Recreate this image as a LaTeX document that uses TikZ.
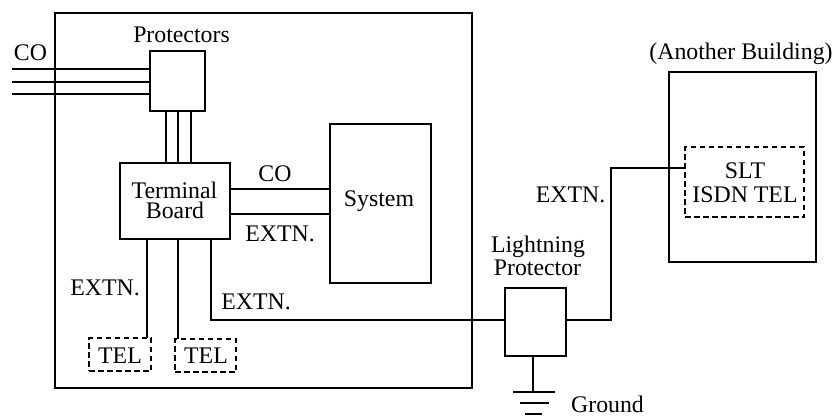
\documentclass[tikz,border=0pt]{standalone}
\usepackage{fontspec}
\setmainfont{Liberation Serif}
\begin{document}
\begin{tikzpicture}[x=1pt,y=-1pt,
  every node/.style={inner sep=0pt,outer sep=0pt},
  wire/.style={line width=2pt,line join=miter},
  boxed/.style={draw,line width=2pt,rectangle},
  dashbox/.style={draw,line width=2pt,rectangle,dash pattern=on 5.5pt off 3.5pt},
  lab/.style={font=\fontsize{23.8}{26}\selectfont,anchor=base,align=center}]
\useasboundingbox (0,0) rectangle (834,415);
% frames
\node[boxed,minimum width=417pt,minimum height=375pt] (site) at (263.5,200.5) {};
\node[boxed,minimum width=147pt,minimum height=190pt] (bldg) at (742.5,167) {};
% boxes
\node[boxed,minimum width=55.5pt,minimum height=60pt] (prot) at (177.25,80.5) {};
\node[boxed,minimum width=109.5pt,minimum height=76pt] (term) at (174.75,201) {};
\node[boxed,minimum width=101pt,minimum height=159pt] (sys) at (380.5,203.5) {};
\node[boxed,minimum width=61pt,minimum height=68pt] (light) at (535.5,322) {};
\node[dashbox,minimum width=62pt,minimum height=33pt] (tela) at (120,354.5) {};
\node[dashbox,minimum width=61pt,minimum height=33pt] (telb) at (205.5,355.5) {};
\node[dashbox,minimum width=119pt,minimum height=70pt] (slt) at (744.5,182) {};
% free ends
\coordinate (co1) at (12,69);
\coordinate (co2) at (12,81.5);
\coordinate (co3) at (12,94);
\coordinate (bend1) at (211,320);
\coordinate (bend2) at (611,320);
\coordinate (bend3) at (611,168);
\coordinate (g1l) at (513,391.5);
\coordinate (g1r) at (555,391.5);
\coordinate (g2l) at (519.5,403);
\coordinate (g2r) at (549,403);
\coordinate (g3l) at (525,413.5);
\coordinate (g3r) at (542,413.5);
\coordinate (gtop) at (533,391.5);
% connectors
\draw[wire] (co1) -- (co1 -| prot.west);
\draw[wire] (co2) -- (co2 -| prot.west);
\draw[wire] (co3) -- (co3 -| prot.west);
\draw[wire] (prot.south -| 165.5,0) -- (term.north -| 165.5,0);
\draw[wire] (prot.south -| 178,0) -- (term.north -| 178,0);
\draw[wire] (prot.south -| 191,0) -- (term.north -| 191,0);
\draw[wire] (term.east |- 0,189) -- (sys.west |- 0,189);
\draw[wire] (term.east |- 0,214) -- (sys.west |- 0,214);
\draw[wire] (term.south -| 147,0) -- (tela.north -| 147,0);
\draw[wire] (term.south -| 178,0) -- (telb.north -| 178,0);
\draw[wire] (bend1 |- term.south) -- (bend1) -- (bend1 -| light.west);
\draw[wire] (bend2 -| light.east) -- (bend2) -- (bend3) -- (bend3 -| slt.west);
\draw[wire] (light.south -| gtop) -- (gtop);
\draw[wire] (g1l) -- (g1r);
\draw[wire] (g2l) -- (g2r);
\draw[wire] (g3l) -- (g3r);
% labels
\node[lab] (lco) at (30.5,60) {CO};
\node[lab] (lprot) at (181.5,42) {Protectors};
\node[lab] (lterm) at (174.5,198) {Terminal};
\node[lab] (lboard) at (175,218) {Board};
\node[lab] (lco2) at (275,181) {CO};
\node[lab] (lsys) at (379,206) {System};
\node[lab] (le1) at (280,241) {EXTN.};
\node[lab] (le2) at (105,295) {EXTN.};
\node[lab] (le3) at (256,309.5) {EXTN.};
\node[lab] (le4) at (570.5,202) {EXTN.};
\node[lab] (ltel1) at (120,363) {TEL};
\node[lab] (ltel2) at (206,363) {TEL};
\node[lab] (lslt) at (745,178) {SLT};
\node[lab] (lisdn) at (745,202) {ISDN TEL};
\node[lab] (lbldg) at (741,59) {(Another Building)};
\node[lab] (llp) at (538,252) {Lightning};
\node[lab] (lpr) at (537.5,275) {Protector};
\node[lab] (lgnd) at (607.5,412) {Ground};
\end{tikzpicture}
\end{document}
